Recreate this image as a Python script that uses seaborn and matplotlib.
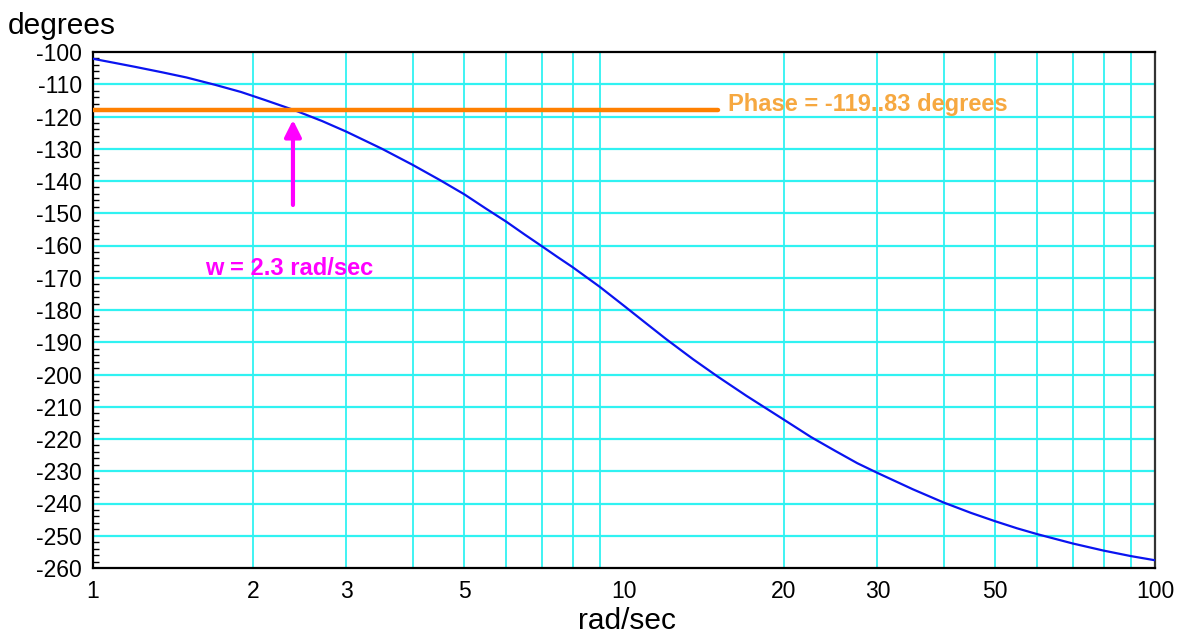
import numpy as np
import pandas as pd
import seaborn as sns
import matplotlib.pyplot as plt
from matplotlib.ticker import FixedLocator, MultipleLocator, NullFormatter

# phase curve
freq = [1, 1.1, 1.2, 1.35, 1.5, 1.7, 1.9, 2.1, 2.4, 2.7, 3, 3.5, 4, 4.5, 5,
        5.5, 6, 6.5, 7, 7.5, 8, 9, 10, 11, 12, 13.5, 15, 17, 20, 22.5, 25,
        27.5, 30, 35, 40, 45, 50, 55, 60, 70, 80, 90, 100]
phase = [-102.1, -103.4, -104.6, -106.3, -107.9, -110.2, -112.4, -114.8,
         -118.1, -121.4, -124.7, -130.0, -135.0, -139.7, -144.1, -148.6,
         -152.6, -156.6, -160.2, -163.6, -166.7, -172.8, -178.7, -184.1,
         -189.0, -195.3, -200.6, -206.6, -214.0, -219.4, -223.7, -227.5,
         -230.5, -235.6, -239.7, -242.9, -245.5, -247.7, -249.5, -252.4,
         -254.6, -256.3, -257.6]

phase_margin_level = -118.1
line_end = 15
arrow_w = 2.38
xtick_vals = [1, 2, 3, 5, 10, 20, 30, 50, 100]
xtick_labels = ['1', '2', '3', '5', '10', '20', '30', '50', '100']

df = pd.DataFrame({'w': freq, 'phase': phase})

sns.set_style('white')
plt.rcParams['font.family'] = ['Liberation Sans', 'DejaVu Sans']
plt.rcParams['axes.unicode_minus'] = False

fig = plt.figure(figsize=(11.8, 6.35), dpi=100)
ax = fig.add_axes([93 / 1180, 1 - 568 / 635, (1155 - 93) / 1180, (568 - 52) / 635])

ax.set_xscale('log')
ax.set_xlim(1, 100)
ax.set_ylim(-260, -100)

# grid
grid_x = list(range(2, 10)) + list(range(20, 100, 10))
for g in grid_x:
    ax.axvline(g, color='#30f2f2', lw=1.3, zorder=1)
for g in range(-250, -100, 10):
    ax.axhline(g, color='#30f2f2', lw=1.6, zorder=1)

sns.lineplot(data=df, x='w', y='phase', color='#0a14f0', lw=1.6, ax=ax, zorder=3)

ax.plot([1, line_end], [phase_margin_level, phase_margin_level], color='#ff8000',
        lw=3.2, solid_capstyle='round', zorder=4)
ax.text(15.7, -118.3, 'Phase = -119..83 degrees', color='#f6a840', fontsize=17,
        fontweight='bold', ha='left', va='baseline')

ax.annotate('', xy=(arrow_w, -120.2), xytext=(arrow_w, -148.3),
            arrowprops=dict(arrowstyle='-|>,head_length=1.0,head_width=0.5',
                            color='#ff00ff', lw=3), zorder=5)
ax.text(1.625, -169.1, 'w = 2.3 rad/sec', color='#ff00ff', fontsize=17,
        fontweight='bold', ha='left', va='baseline')

ax.xaxis.set_major_locator(FixedLocator(xtick_vals))
ax.set_xticklabels(xtick_labels)
ax.xaxis.set_minor_formatter(NullFormatter())
ax.xaxis.set_minor_locator(FixedLocator([]))
ax.yaxis.set_major_locator(MultipleLocator(10))
ax.yaxis.set_minor_locator(MultipleLocator(2))
ax.tick_params(axis='x', length=0, pad=9, labelsize=16.5, labelcolor='black')
ax.tick_params(axis='y', which='major', left=True, direction='in', length=9,
               width=1.2, color='black', labelsize=16.5, labelcolor='black', pad=8)
ax.tick_params(axis='y', which='minor', left=True, direction='in', length=4.5,
               width=1.0, color='black')
ax.set_xlabel('')
ax.set_ylabel('')

for side in ['left', 'bottom', 'top']:
    ax.spines[side].set_color('black')
    ax.spines[side].set_linewidth(1.6)
ax.spines['right'].set_color('#333333')
ax.spines['right'].set_linewidth(1.6)

fig.text(8 / 1180, 1 - 34 / 635, 'degrees', fontsize=21.5, va='baseline', ha='left',
         color='black')
fig.text(627 / 1180, 1 - 629 / 635, 'rad/sec', fontsize=21.5, va='baseline',
         ha='center', color='black')

fig.savefig('out.png', dpi=100)
